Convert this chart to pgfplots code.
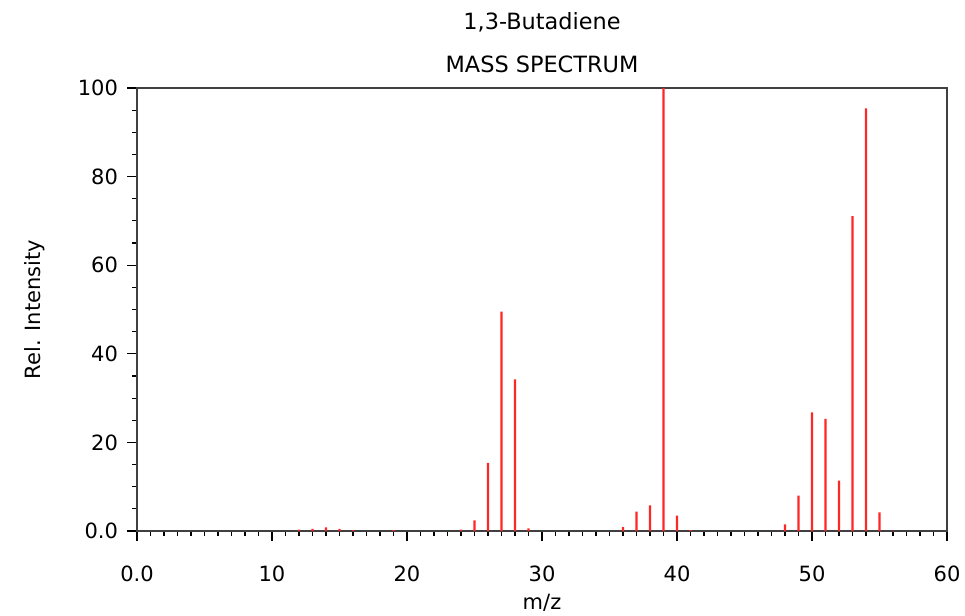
\documentclass[border=0pt]{standalone}
\usepackage{fontspec}
\setmainfont{DejaVu Sans}
\usepackage{pgfplots}
\pgfplotsset{compat=1.18}
\begin{document}
\begin{tikzpicture}
\begin{axis}[
  scale only axis, width=405pt, height=221.5pt,
  xmin=0, xmax=60, ymin=0, ymax=100,
  xtick={0,10,20,30,40,50,60}, xticklabels={0.0,10,20,30,40,50,60},
  ytick={0,20,40,60,80,100}, yticklabels={0.0,20,40,60,80,100},
  minor x tick num=9, minor y tick num=3,
  xtick pos=bottom, ytick pos=left,
  tick align=outside, major tick length=5pt, minor tick length=2.5pt,
  axis line style={draw=black!75, line width=0.75pt},
  tick style={black, line width=0.6pt},
  /pgf/number format/assume math mode=true,
  tick label style={font=\fontsize{10.5}{12}\selectfont},
  xticklabel style={yshift=-9pt},
  yticklabel style={xshift=-1pt},
  label style={font=\fontsize{10.5}{12}\selectfont},
  xlabel={m/z}, ylabel={Rel. Intensity},
  xlabel style={yshift=0.5pt},
  ylabel style={yshift=9.5pt},
  title={1,3-Butadiene\\MASS SPECTRUM},
  title style={align=center, font=\fontsize{11.2}{21.5}\selectfont, yshift=-2pt},
]
\addplot[ybar, bar width=1.1pt, fill=red!85!white, draw=none, no marks] coordinates {
(12,0.3) (13,0.5) (14,0.8) (15,0.5) (16,0.2) (19,0.2) (24,0.3)
(25,2.4) (26,15.4) (27,49.5) (28,34.2) (29,0.6)
(36,0.9) (37,4.4) (38,5.8) (39,100) (40,3.5) (41,0.2)
(48,1.5) (49,8.0) (50,26.8) (51,25.3) (52,11.4) (53,71.1) (54,95.4) (55,4.2) (56,0.1)
};
\end{axis}
\pgfresetboundingbox
\useasboundingbox ([shift={(-68.5pt,-42pt)}]current axis.south west) rectangle ([shift={(9pt,44pt)}]current axis.north east);
\end{tikzpicture}
\end{document}
